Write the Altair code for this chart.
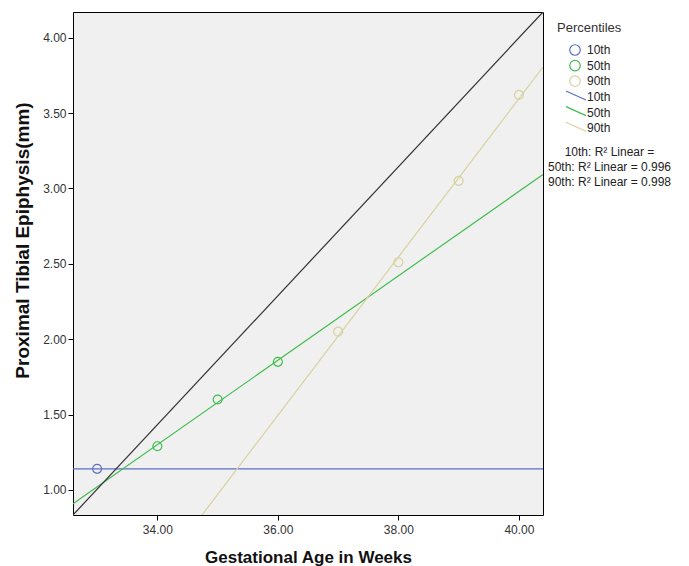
import altair as alt
import pandas as pd

# ---- data ----
percentiles = ["10th", "50th", "90th"]
colors = ["#5b6fc6", "#3fbd4e", "#d8d29f"]

weeks_10 = [33]
vals_10 = [1.14]
weeks_50 = [34, 35, 36]
vals_50 = [1.29, 1.60, 1.85]
weeks_90 = [37, 38, 39, 40]
vals_90 = [2.05, 2.51, 3.05, 3.62]

x_domain = [32.6, 40.4]
y_domain = [0.834, 4.17]
x_ticks = [34, 36, 38, 40]
y_ticks = [1.0, 1.5, 2.0, 2.5, 3.0, 3.5, 4.0]

# corner-to-corner reference line
diag_x = [32.6, 40.4]
diag_y = [0.834, 4.17]

r2_labels = ["10th: R\u00b2 Linear =", "50th: R\u00b2 Linear = 0.996", "90th: R\u00b2 Linear = 0.998"]

# ---- tables ----
pts = pd.DataFrame({
    "week": weeks_10 + weeks_50 + weeks_90,
    "value": vals_10 + vals_50 + vals_90,
    "pct": ["10th"] * len(weeks_10) + ["50th"] * len(weeks_50) + ["90th"] * len(weeks_90),
})
diag = pd.DataFrame({"week": diag_x, "value": diag_y})
ten = pd.DataFrame({"value": vals_10, "pct": ["10th"]})

W, H = 470, 503
FONT = "Liberation Sans"

xs = alt.Scale(domain=x_domain, nice=False, zero=False)
ys = alt.Scale(domain=y_domain, nice=False, zero=False)
cs = alt.Scale(domain=percentiles, range=colors)

X = alt.X("week:Q", scale=xs, axis=alt.Axis(values=x_ticks, format=".2f",
          title="Gestational Age in Weeks", titlePadding=14, labelPadding=4, titleFontSize=17))
Y = alt.Y("value:Q", scale=ys, axis=alt.Axis(values=y_ticks, format=".2f",
          title="Proximal Tibial Epiphysis(mm)", titlePadding=10, labelPadding=2,
          titleFontSize=19, titleY=228))

points = alt.Chart(pts).mark_point(shape="circle", filled=False, size=80, strokeWidth=1.2, opacity=1).encode(
    x=X, y=Y, color=alt.Color("pct:N", scale=cs, legend=None))

fits = alt.Chart(pts).transform_filter(
    alt.datum.pct != "10th"
).transform_regression("week", "value", groupby=["pct"], extent=x_domain).mark_line(
    strokeWidth=1.2, clip=True).encode(
    x=alt.X("week:Q", scale=xs), y=alt.Y("value:Q", scale=ys),
    color=alt.Color("pct:N", scale=cs, legend=None))

ten_rule = alt.Chart(ten).mark_rule(strokeWidth=1.2).encode(
    y=alt.Y("value:Q", scale=ys), color=alt.Color("pct:N", scale=cs, legend=None))

diag_line = alt.Chart(diag).mark_line(color="#333333", strokeWidth=1.2, clip=True).encode(
    x=alt.X("week:Q", scale=xs), y=alt.Y("value:Q", scale=ys))

# ---- manual legend (pixel positions relative to plot origin) ----
legend_layers = []
legend_layers.append(
    alt.Chart(pd.DataFrame({"t": ["Percentiles"]})).mark_text(
        align="left", baseline="middle", font=FONT, fontSize=13, color="#333333").encode(
        x=alt.value(484), y=alt.value(16), text="t:N"))
row_y = [38, 53.6, 69.2]
line_y = [85, 100.6, 116.2]
for i, p in enumerate(percentiles):
    d = pd.DataFrame({"t": [p]})
    legend_layers.append(alt.Chart(d).mark_point(shape="circle", filled=False, size=110, strokeWidth=1.2,
                                                 color=colors[i], opacity=1).encode(
        x=alt.value(502), y=alt.value(row_y[i])))
    legend_layers.append(alt.Chart(d).mark_text(align="left", baseline="middle", font=FONT, fontSize=12,
                                                color="#222222").encode(
        x=alt.value(514), y=alt.value(row_y[i]), text="t:N"))
    legend_layers.append(alt.Chart(d).mark_rule(color=colors[i], strokeWidth=1.2).encode(
        x=alt.value(493), x2=alt.value(513), y=alt.value(line_y[i] - 6), y2=alt.value(line_y[i] + 3)))
    legend_layers.append(alt.Chart(d).mark_text(align="left", baseline="middle", font=FONT, fontSize=12,
                                                color="#222222").encode(
        x=alt.value(514), y=alt.value(line_y[i]), text="t:N"))
r2_y = [140, 155, 170]
for i, t in enumerate(r2_labels):
    legend_layers.append(alt.Chart(pd.DataFrame({"t": [t]})).mark_text(
        align="center", baseline="middle", font=FONT, fontSize=12, color="#222222").encode(
        x=alt.value(536.5), y=alt.value(r2_y[i]), text="t:N"))

chart = alt.layer(ten_rule, fits, diag_line, points, *legend_layers).properties(
    width=W, height=H,
    autosize=alt.AutoSizeParams(type="none"),
    padding={"left": 73, "top": 12, "right": 146, "bottom": 51},
    background="white",
).configure_view(
    fill="#f0f0f0", stroke="black", strokeWidth=1
).configure_axis(
    grid=False, domain=False, tickColor="black", tickSize=5, tickWidth=1,
    labelFont=FONT, labelFontSize=12, labelColor="#333333",
    titleFont=FONT, titleFontWeight="bold", titleColor="#111111",
)

chart.save("out.html", embed_options={"renderer": "svg", "actions": False})
